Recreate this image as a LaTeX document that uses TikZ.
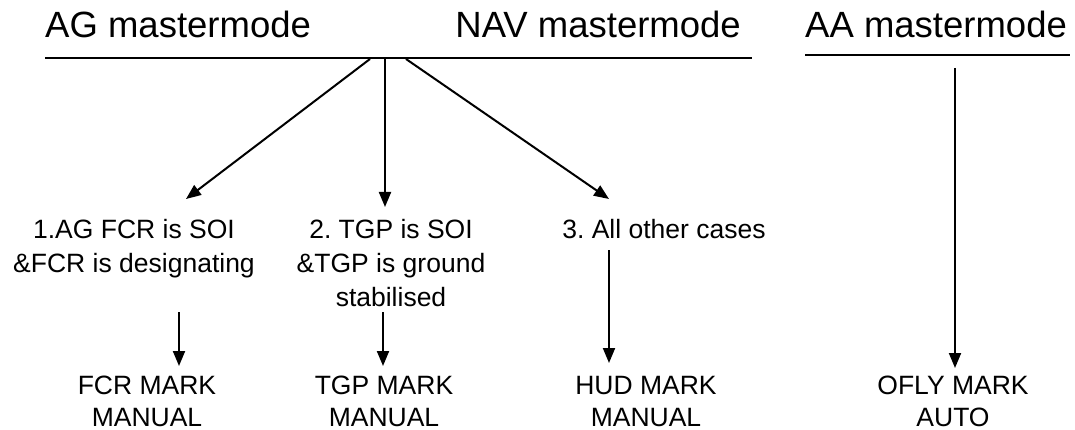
\documentclass[tikz,border=0pt]{standalone}
\usepackage{fontspec}
\setmainfont{Liberation Sans}
\usetikzlibrary{arrows.meta}
\frenchspacing
\begin{document}
\begin{tikzpicture}[x=1pt,y=-1pt,
  head/.style={font=\fontsize{36.5}{40}\selectfont, inner sep=0pt},
  lbl/.style={font=\fontsize{26.5}{34}\selectfont, inner sep=0pt, align=center, anchor=base},
  res/.style={font=\fontsize{26.5}{32}\selectfont, inner sep=0pt, align=center, anchor=base},
  rule/.style={line width=2.2pt},
  arr/.style={line width=2pt, -{Triangle[length=15pt,width=12pt]}}]
\useasboundingbox (0,0) rectangle (1075,430);

% mastermode headings with their rules
\node[head, anchor=base west] (ag)  at (45,38)  {AG mastermode};
\node[head, anchor=base east] (nav) at (741,38) {NAV mastermode};
\node[head, anchor=base west] (aa)  at (805,38) {AA mastermode};
\coordinate (r1a) at (45,58);  \coordinate (r1b) at (752,58);
\coordinate (r2a) at (805,55); \coordinate (r2b) at (1070,55);
\draw[rule] (r1a) -- (r1b);
\draw[rule] (r2a) -- (r2b);

% branch origins on the AG/NAV rule
\coordinate (o1) at (370,59);
\coordinate (o2) at (385,59);
\coordinate (o3) at (406,59);
\coordinate (o4) at (955,68);

% conditions (anchored at the baseline of their last line)
\node[lbl] (c1) at (134,272) {1.AG FCR is SOI\\\&FCR is designating};
\node[lbl] (c2) at (391,306) {2. TGP is SOI\\\&TGP is ground\\stabilised};
\node[lbl] (c3) at (664,238) {3. All other cases};

% resulting marks
\node[res] (m1) at (147,426) {FCR MARK\\MANUAL};
\node[res] (m2) at (384,426) {TGP MARK\\MANUAL};
\node[res] (m3) at (646,426) {HUD MARK\\MANUAL};
\node[res] (m4) at (953,426) {OFLY MARK\\AUTO};

% arrow end points
\coordinate (t1) at (186,199);
\coordinate (t2) at (385,207);
\coordinate (t3) at (609,199);
\coordinate (s1) at (179,312); \coordinate (e1) at (179,366);
\coordinate (s2) at (383,312); \coordinate (e2) at (383,366);
\coordinate (s3) at (609,250); \coordinate (e3) at (609,363);
\coordinate (e4) at (955,368);

\draw[arr] (o1) -- (t1);
\draw[arr] (o2) -- (t2);
\draw[arr] (o3) -- (t3);
\draw[arr] (s1) -- (e1);
\draw[arr] (s2) -- (e2);
\draw[arr] (s3) -- (e3);
\draw[arr] (o4) -- (e4);
\end{tikzpicture}
\end{document}
